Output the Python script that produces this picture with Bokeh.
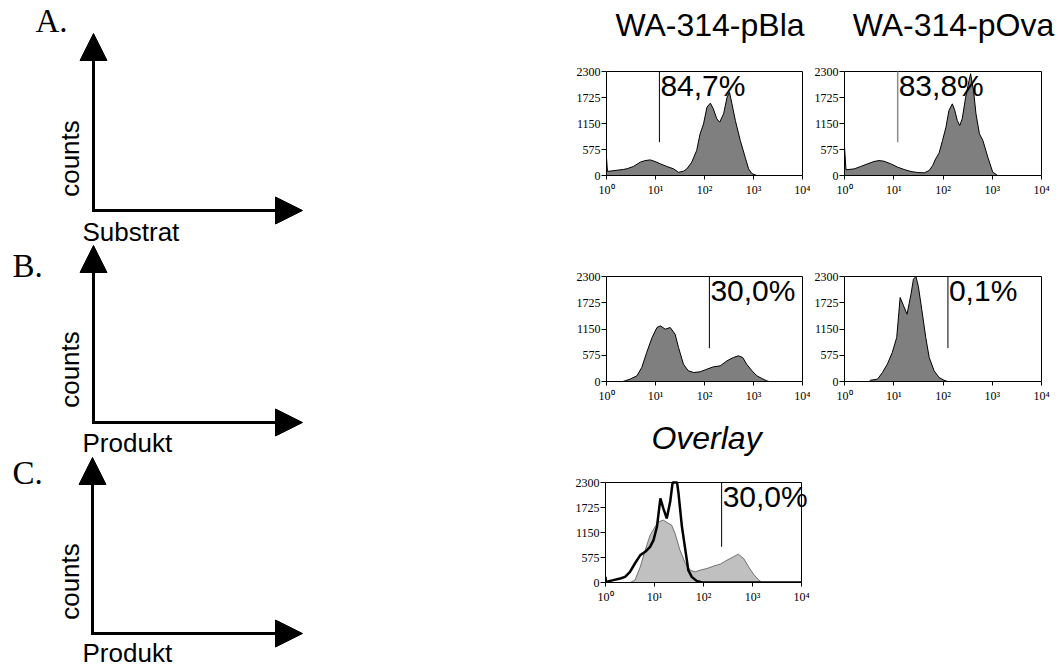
import math
from bokeh.plotting import figure
from bokeh.layouts import row, column
from bokeh.models import Range1d, FixedTicker, Arrow, NormalHead
from bokeh.core.properties import value
from bokeh.embed import file_html
from bokeh.resources import INLINE

# ---------------- data (x = log10 fluorescence, y = counts) ----------------
panel_letters = ["A.", "B.", "C."]
schema_x_labels = ["Substrat", "Produkt", "Produkt"]
schema_y_label = "counts"
column_titles = ["WA-314-pBla", "WA-314-pOva"]
overlay_title = "Overlay"

y_ticks = [0, 575, 1150, 1725, 2300]
x_ticks = [0, 1, 2, 3, 4]
x_tick_labels = ["10⁰", "10¹", "10²", "10³", "10⁴"]
Y_MAX = 2300
X_MAX = 4

a1_x = [0.0, 0.0, 0.02, 0.35, 0.42, 0.55, 0.69, 0.79, 0.89, 0.99, 1.10, 1.23, 1.37, 1.47, 1.57, 1.64,
        1.74, 1.84, 1.91, 1.98, 2.05, 2.12, 2.18, 2.25, 2.31, 2.39, 2.46, 2.51, 2.56, 2.63, 2.73, 2.83,
        2.90, 2.97, 3.07]
a1_y = [0, 400, 90, 135, 150, 200, 295, 330, 345, 310, 258, 200, 147, 70, 95, 147,
        295, 553, 920, 1140, 1510, 1600, 1475, 1255, 1180, 1365, 1730, 1840, 1585, 1215, 775, 405,
        147, 40, 0]

a2_x = [0.0, 0.0, 0.03, 0.20, 0.33, 0.47, 0.60, 0.70, 0.80, 0.94, 1.08, 1.21, 1.35, 1.49, 1.62, 1.72,
        1.79, 1.85, 1.92, 1.99, 2.06, 2.12, 2.19, 2.24, 2.29, 2.34, 2.39, 2.46, 2.53, 2.56, 2.62, 2.67,
        2.74, 2.81, 2.91, 3.01, 3.11]
a2_y = [0, 640, 125, 147, 200, 258, 310, 330, 317, 258, 184, 133, 88, 66, 59, 111,
        221, 369, 494, 774, 1069, 1437, 1585, 1437, 1216, 1105, 1253, 1732, 2100, 2250, 1880, 1363,
        921, 774, 405, 74, 0]

b1_x = [0.33, 0.38, 0.48, 0.62, 0.72, 0.82, 0.93, 1.03, 1.10, 1.20, 1.30, 1.40, 1.47, 1.57, 1.67, 1.78,
        1.91, 2.05, 2.18, 2.32, 2.46, 2.59, 2.69, 2.78, 2.86, 2.97, 3.07, 3.17, 3.27, 3.32]
b1_y = [0, 15, 51, 124, 307, 635, 964, 1183, 1219, 1146, 1183, 1037, 745, 380, 234, 197,
        212, 270, 321, 343, 453, 526, 562, 526, 380, 234, 124, 66, 15, 0]

b2_x = [0.50, 0.53, 0.67, 0.77, 0.87, 0.97, 1.06, 1.13, 1.20, 1.27, 1.35, 1.40, 1.45, 1.50, 1.57, 1.65,
        1.72, 1.82, 1.92, 2.02, 2.09]
b2_y = [0, 29, 51, 197, 380, 635, 964, 1840, 1657, 1474, 1913, 2241, 2300, 2080, 1570, 964,
        526, 234, 88, 29, 0]

c_grey_x = [0.50, 0.60, 0.71, 0.81, 0.91, 1.01, 1.08, 1.18, 1.29, 1.35, 1.42, 1.52, 1.63, 1.73, 1.83,
            1.93, 2.07, 2.20, 2.34, 2.48, 2.61, 2.71, 2.82, 2.92, 3.02, 3.12, 3.19]
c_grey_y = [0, 54, 360, 744, 1089, 1281, 1396, 1434, 1357, 1319, 1127, 744, 437, 284, 245,
            284, 322, 376, 422, 514, 591, 652, 552, 360, 192, 69, 0]

c_black_x = [0.0, 0.01, 0.16, 0.30, 0.40, 0.50, 0.60, 0.71, 0.81, 0.91, 0.98, 1.05, 1.12, 1.18, 1.25,
             1.32, 1.37, 1.46, 1.49, 1.56, 1.63, 1.69, 1.76, 1.86, 1.97, 4.0]
c_black_y = [130, 15, 54, 92, 130, 245, 437, 629, 706, 821, 974, 1281, 1933, 1703, 1473,
             1856, 2300, 2300, 2048, 1281, 744, 284, 130, 38, 0, 0]

gate_pos = [1.08, 1.08, 2.10, 2.10, 2.37]
gate_low = [737, 737, 730, 730, 821]
gate_text = ["84,7%", "83,8%", "30,0%", "0,1%", "30,0%"]

# ---------------- styling / layout constants ----------------
SANS = "Liberation Sans"
SERIF = "Liberation Serif"
NARROW = "Liberation Sans Narrow"
DARK = "#7f7f7f"
LIGHT = "#c0c0c0"


def canvas(w, h):
    p = figure(width=w, height=h, x_range=Range1d(0, w), y_range=Range1d(h, 0),
               toolbar_location=None, output_backend="svg", x_axis_type=None, y_axis_type=None,
               min_border=0, outline_line_color=None)
    p.grid.visible = False
    return p


class Hist:
    """Histogram panel whose plotting frame also covers the space above / right of the data box."""

    def __init__(self, w, h, bl, bt, bb, data_w):
        self.bl, self.bt = bl, bt
        self.frame_h = h - bb
        self.data_h = h - bb - bt
        self.data_w = data_w
        frame_w = w - bl
        p = figure(width=w, height=h,
                   x_range=Range1d(0, X_MAX * frame_w / data_w),
                   y_range=Range1d(0, Y_MAX * self.frame_h / self.data_h),
                   toolbar_location=None, output_backend="svg",
                   min_border_left=bl, min_border_right=0, min_border_top=0, min_border_bottom=bb)
        p.grid.visible = False
        p.outline_line_color = None
        for ax in (p.xaxis[0], p.yaxis[0]):
            ax.axis_line_color = "black"
            ax.major_tick_line_color = "black"
            ax.minor_tick_line_color = None
            ax.major_tick_in = 0
            ax.major_label_text_font = NARROW
            ax.major_label_text_font_size = "12px"
            ax.major_label_text_color = "black"
        p.yaxis.ticker = FixedTicker(ticks=y_ticks)
        p.yaxis.bounds = (0, Y_MAX)
        p.yaxis.major_tick_out = 5
        p.yaxis.major_label_standoff = 1
        p.xaxis.ticker = FixedTicker(ticks=x_ticks)
        p.xaxis.bounds = (0, X_MAX)
        p.xaxis.major_label_overrides = {t: s for t, s in zip(x_ticks, x_tick_labels)}
        p.xaxis.major_tick_out = 4
        p.xaxis.major_label_standoff = 3
        # top and right edges of the data box
        p.line([0, X_MAX, X_MAX], [Y_MAX, Y_MAX, 0], line_color="black", line_width=1)
        self.p = p

    # pixel position inside the figure -> data coordinates (for headings only)
    def px(self, x_rel):
        return (x_rel - self.bl) / self.data_w * X_MAX

    def py(self, y_rel):
        return (self.frame_h - y_rel) / self.data_h * Y_MAX

    def filled(self, xs, ys, fill, line="black", lw=1):
        self.p.varea(x=xs, y1=[0] * len(xs), y2=ys, fill_color=fill)
        self.p.line(xs, ys, line_color=line, line_width=lw)

    def gate(self, i, color="black", width=1):
        self.p.segment(x0=[gate_pos[i]], y0=[gate_low[i]], x1=[gate_pos[i]], y1=[Y_MAX],
                       line_color=color, line_width=width)
        self.p.text(x=[gate_pos[i]], y=[Y_MAX], text=[gate_text[i]], x_offset=1, y_offset=-3,
                    text_baseline="top", text_align="left", text_font=value(SANS),
                    text_font_size="30px", text_color="black")

    def heading(self, text, cx, top, italic=False):
        self.p.text(x=[self.px(cx)], y=[self.py(top)], text=[text], text_baseline="top",
                    text_align="center", text_font=value(SANS), text_font_size="32px",
                    text_font_style="italic" if italic else "normal", text_color="black")


# ---------------- left schematic ----------------
left = canvas(560, 667)
left.text(x=[35, 12, 12], y=[2.5, 247.5, 454.5], text=panel_letters, text_font=value(SERIF),
          text_font_size="33px", text_baseline="top", text_align="left", text_color="black")
corner_x = [93, 93, 92]
corner_y = [210, 422, 633]
tip_y = [33, 245, 457]
tip_x = 302
for cx, cy, ty in zip(corner_x, corner_y, tip_y):
    left.add_layout(Arrow(end=NormalHead(size=27, fill_color="black", line_color="black"),
                          x_start=cx, y_start=cy + 1.5, x_end=cx, y_end=ty, line_width=3,
                          line_color="black"))
    left.add_layout(Arrow(end=NormalHead(size=27, fill_color="black", line_color="black"),
                          x_start=cx - 1.5, y_start=cy, x_end=tip_x, y_end=cy, line_width=3,
                          line_color="black"))
left.text(x=[54, 54, 54], y=[158, 369, 581], text=[schema_y_label] * 3, angle=math.pi / 2,
          text_font=value(SANS), text_font_size="26px", text_align="center",
          text_baseline="top", text_color="black")
left.text(x=[82, 82, 82], y=[216, 427, 637], text=schema_x_labels, text_font=value(SANS),
          text_font_size="26px", text_align="left", text_baseline="top", text_color="black")

# ---------------- right column ----------------
hA1 = Hist(250, 215, 46, 71, 40, 196)
hA1.filled(a1_x, a1_y, DARK)
hA1.gate(0)
hA1.heading(column_titles[0], 149.5, 6.5)

hA2 = Hist(250, 215, 34, 71, 40, 197)
hA2.filled(a2_x, a2_y, DARK)
hA2.gate(1, color="#8c8c8c", width=1.5)
hA2.heading(column_titles[1], 143, 6.5)

hB1 = Hist(250, 200, 46, 61, 34, 196)
hB1.filled(b1_x, b1_y, DARK)
hB1.gate(2)
hB2 = Hist(250, 200, 34, 61, 34, 197)
hB2.filled(b2_x, b2_y, DARK)
hB2.gate(3)

hC = Hist(500, 252, 45, 67, 85, 196)
hC.filled(c_grey_x, c_grey_y, LIGHT, line="#555555", lw=0.8)
hC.p.line(c_black_x, c_black_y, line_color="black", line_width=2.5)
hC.gate(4)
hC.heading(overlay_title, 146, 4.5, italic=True)

layout = row(left, column(row(hA1.p, hA2.p), row(hB1.p, hB2.p), hC.p))

open("out.html", "w").write(file_html(layout, INLINE))
